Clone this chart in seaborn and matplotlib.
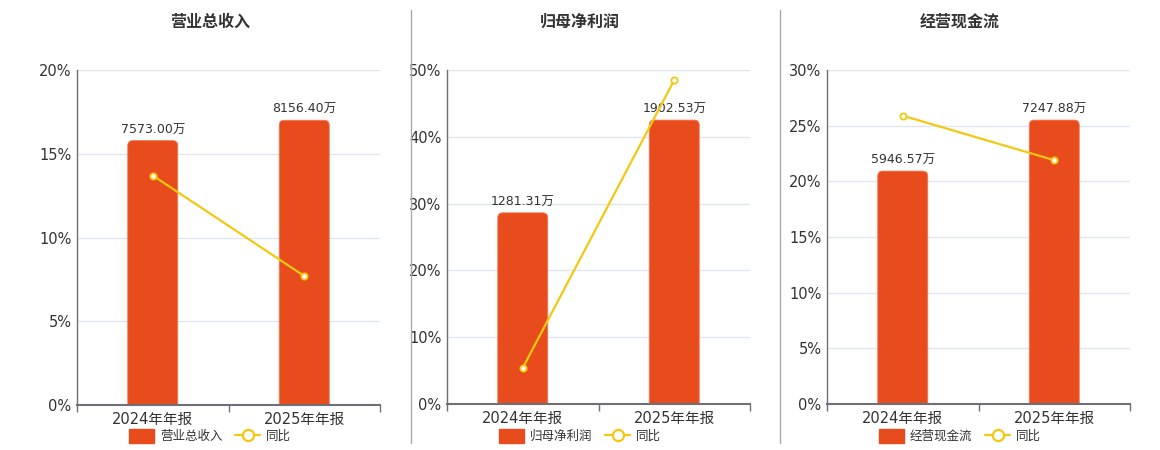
import matplotlib
matplotlib.use("Agg")
import matplotlib.pyplot as plt
import seaborn as sns
import numpy as np
from matplotlib.patches import FancyBboxPatch, Patch
from matplotlib.lines import Line2D

sns.set_theme(style="white")
plt.rcParams['font.family'] = ['DejaVu Sans', 'Noto Sans CJK SC']

# 数据
periods = ["2024年年报", "2025年年报"]
titles = ["营业总收入", "归母净利润", "经营现金流"]
revenue = [7573.00, 8156.40]
revenue_yoy = [13.7, 7.7]
net_profit = [1281.31, 1902.53]
net_profit_yoy = [5.4, 48.5]
cash_flow = [5946.57, 7247.88]
cash_flow_yoy = [25.9, 21.9]
pct_max = [20, 50, 30]
pct_step = [5, 10, 5]

bar_color = "#E84B1C"
line_color = "#F2C811"
text_color = "#333333"
W, H = 1160, 450

panels = [
    (titles[0], revenue, revenue_yoy, 77, 70, 405, 210),
    (titles[1], net_profit, net_profit_yoy, 447, 70, 404, 580),
    (titles[2], cash_flow, cash_flow_yoy, 827, 70, 404, 960),
]

fig = plt.figure(figsize=(W / 100, H / 100), dpi=100)
fig.patch.set_facecolor("white")

for i, (title, bars, yoy, left, top, bottom, cx) in enumerate(panels):
    axw = 303
    ax_bar = fig.add_axes([left / W, 1 - bottom / H, axw / W, (bottom - top) / H])
    bar_top = max(bars) / 0.85
    sns.barplot(x=periods, y=bars, ax=ax_bar, color=bar_color, width=0.33,
                saturation=1, zorder=2)
    ax_bar.set_ylim(0, bar_top)
    ax_bar.set_xlim(-0.5, 1.5)
    n = int(pct_max[i] / pct_step[i])
    ax_bar.set_yticks(np.linspace(0, bar_top, n + 1))
    ax_bar.set_yticklabels([])
    ax_bar.tick_params(axis='y', length=0)
    ax_bar.grid(axis='y', color="#E0E6F1", linewidth=1, zorder=0)
    ax_bar.set_axisbelow(True)

    # 圆角柱子
    px_x = 2.0 / axw
    px_y = bar_top / (bottom - top)
    for p in list(ax_bar.patches):
        x0, w, h = p.get_x(), p.get_width(), p.get_height()
        p.set_visible(False)
        rb = FancyBboxPatch((x0, -h * 0.1), w, h * 1.1,
                            boxstyle="round,pad=0,rounding_size=%f" % (5 * px_x),
                            mutation_aspect=px_y / px_x,
                            facecolor=bar_color, edgecolor="#F07A5A", linewidth=0.6,
                            zorder=2)
        ax_bar.add_patch(rb)
        ax_bar.text(x0 + w / 2, h + 4 * px_y, "%.2f万" % h, ha='center', va='bottom',
                    fontsize=9, color=text_color, zorder=5)

    ax_line = ax_bar.twinx()
    sns.lineplot(x=[0, 1], y=yoy, ax=ax_line, color=line_color, linewidth=1.6,
                 marker='o', markersize=4.5, markerfacecolor='white',
                 markeredgecolor=line_color, markeredgewidth=1.3, zorder=4)
    ax_line.set_ylim(0, pct_max[i])
    ax_line.set_xlim(-0.5, 1.5)
    ax_line.yaxis.tick_left()
    ax_line.set_yticks(np.arange(0, pct_max[i] + 0.1, pct_step[i]))
    ax_line.set_yticklabels(["%d%%" % v for v in np.arange(0, pct_max[i] + 0.1, pct_step[i])])
    ax_line.tick_params(axis='y', length=0, labelsize=10.5, labelcolor=text_color, pad=4)
    ax_line.set_ylabel("")
    ax_bar.set_ylabel("")

    for a in (ax_bar, ax_line):
        for s in ("top", "right"):
            a.spines[s].set_visible(False)
    ax_line.spines["left"].set_visible(False)
    ax_line.spines["bottom"].set_visible(False)
    ax_bar.spines["left"].set_color("#6E7079")
    ax_bar.spines["left"].set_linewidth(1)
    ax_bar.spines["bottom"].set_color("#6E7079")
    ax_bar.spines["bottom"].set_linewidth(1.5)

    ax_bar.set_xticks([0, 1])
    ax_bar.set_xticklabels(periods)
    ax_bar.set_xticks([-0.5, 0.5, 1.5], minor=True)
    ax_bar.tick_params(axis='x', which='major', length=0, labelsize=10.5,
                       labelcolor=text_color, pad=5)
    ax_bar.tick_params(axis='x', which='minor', length=5, width=1, color="#6E7079",
                       direction='out', bottom=True)

    fig.text(cx / W, 1 - 22 / H, title, ha='center', va='center', fontsize=11.5,
             fontweight='bold', color=text_color, family=['Noto Sans CJK SC', 'DejaVu Sans'])

    handles = [
        Patch(facecolor=bar_color, edgecolor=bar_color),
        Line2D([0], [0], color=line_color, linewidth=1.6, marker='o', markersize=8,
               markerfacecolor='white', markeredgecolor=line_color, markeredgewidth=1.6),
    ]
    leg = fig.legend(handles, [title, "同比"], loc='center',
                     bbox_to_anchor=(cx / W, 1 - 436 / H), ncol=2, frameon=False,
                     fontsize=9, handlelength=2.0, handleheight=1.3, handletextpad=0.5,
                     columnspacing=1.0, borderpad=0)
    for t in leg.get_texts():
        t.set_color(text_color)
        t.set_family(['Noto Sans CJK SC', 'DejaVu Sans'])

# 分隔线
for xs in (411, 780):
    fig.add_artist(Line2D([xs / W, xs / W], [1 - 10 / H, 1 - 443 / H],
                          color="#AAAAAA", linewidth=1, transform=fig.transFigure))

fig.savefig("out.png", dpi=100, facecolor="white")
